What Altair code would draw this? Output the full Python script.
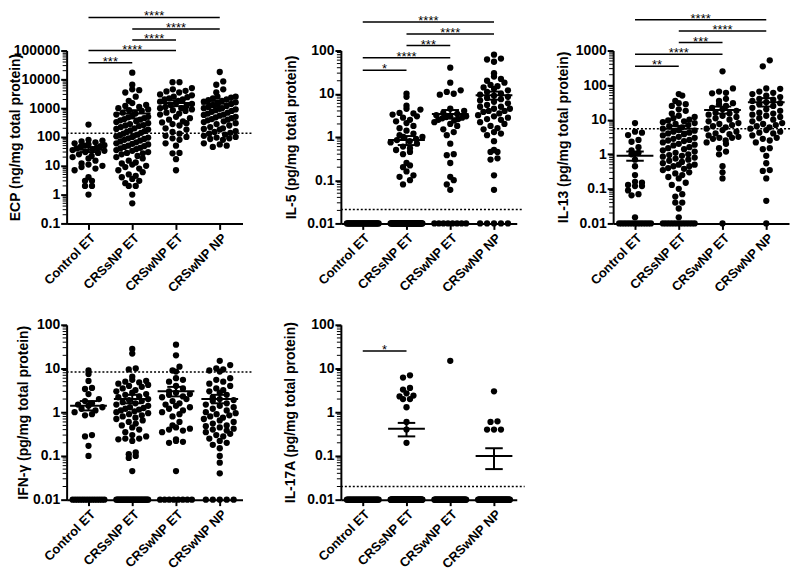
import math
import altair as alt
import pandas as pd

GROUPS = ["Control ET", "CRSsNP ET", "CRSwNP ET", "CRSwNP NP"]
FLOOR = 0.01
FONT = "Liberation Sans"

# ---------------- ECP (ng/mg total protein) ----------------
ecp_control = [270, 80, 75, 70, 65, 60, 55, 52, 50, 48, 45, 42, 40, 38, 35, 33, 30, 28, 25, 22,
               20, 18, 15, 12, 11, 10, 9, 8, 7, 4, 3, 3, 2, 2, 1]
ecp_crssnp = [17000, 6500, 4500, 4200, 3500, 2500, 1800, 1500, 1300, 1200, 1100, 1000, 900, 850,
              800, 700, 650, 600, 550, 500, 480, 450, 420, 400, 380, 350, 330, 300, 280, 260, 250,
              240, 220, 200, 190, 180, 170, 160, 150, 140, 130, 120, 115, 110, 105, 100, 95, 90, 85,
              80, 75, 70, 65, 60, 58, 55, 50, 48, 45, 42, 40, 38, 35, 33, 30, 28, 27, 25, 22, 20, 18,
              15, 13, 12, 11, 10, 9, 8, 7, 6, 5, 4.5, 4, 3.5, 3, 2.5, 2, 2, 1, 0.5]
ecp_crswnp_et = [8000, 8000, 5000, 4500, 4000, 3800, 3500, 3000, 2800, 2500, 2400, 2200, 2000, 2000,
                 1800, 1700, 1500, 1400, 1300, 1200, 1100, 1000, 1000, 900, 850, 800, 700, 650, 600,
                 500, 450, 400, 350, 320, 300, 280, 250, 200, 180, 150, 130, 110, 100, 90, 80, 60,
                 50, 28, 27, 17, 7]
ecp_crswnp_np = [18000, 8500, 6500, 4500, 3500, 2500, 2500, 2300, 2200, 2000, 1900, 1800, 1700, 1600,
                 1500, 1400, 1300, 1200, 1100, 1000, 1000, 950, 900, 850, 800, 750, 700, 650, 600,
                 580, 550, 500, 480, 450, 420, 400, 380, 350, 330, 300, 280, 250, 220, 200, 190, 180,
                 160, 150, 140, 130, 120, 110, 100, 95, 90, 85, 80, 60, 55, 50, 45]
ecp_floor = [0, 0, 0, 0]
ecp_mean = [36, 650, 1500, 1430]
ecp_sem_lo = [30, 440, 1170, 1110]
ecp_sem_hi = [44, 850, 1860, 1780]
ecp_threshold = 135
ecp_sig_from = [0, 0, 1, 1, 0]
ecp_sig_to = [1, 2, 2, 3, 3]
ecp_sig_level = [38000, 100000, 230000, 560000, 1400000]
ecp_sig_text = ["***", "****", "****", "****", "****"]

# ---------------- IL-5 ----------------
il5_control = []
il5_crssnp = [10, 8.5, 5.3, 4.5, 4.3, 3.6, 3.5, 3.3, 3.0, 2.8, 2.5, 2.3, 2.1, 1.8, 1.6, 1.4, 1.2, 1.1,
              1.0, 1.0, 0.9, 0.85, 0.8, 0.75, 0.7, 0.6, 0.55, 0.5, 0.45, 0.4, 0.25, 0.22, 0.2, 0.16,
              0.13, 0.12, 0.1, 0.08]
il5_crswnp_et = [40, 18, 12, 11, 10, 9.5, 4.5, 4, 3.6, 3.4, 3.2, 3, 3, 2.9, 2.8, 2.7, 2.6, 2.5, 2.4,
                 2.2, 2, 1.8, 1.5, 1.3, 1.1, 0.7, 0.4, 0.38, 0.25, 0.12, 0.1, 0.08, 0.06]
il5_crswnp_np = [80, 65, 62, 55, 30, 25, 22, 20, 18, 16, 15, 14, 13, 12, 11, 10, 9.5, 9, 8.5, 8, 7.5,
                 7, 6.5, 6, 5.5, 5, 5, 4.5, 4.5, 4, 4, 3.8, 3.5, 3.2, 3, 2.8, 2.6, 2.5, 2.2, 2, 1.8,
                 1.6, 1.5, 1.3, 1.2, 1.1, 0.8, 0.5, 0.45, 0.45, 0.32, 0.3, 0.13, 0.06]
il5_floor = [35, 55, 8, 5]
il5_mean = [None, 0.85, 3.4, 9.2]
il5_sem_lo = [None, 0.65, 2.7, 7.3]
il5_sem_hi = [None, 1.05, 4.2, 11.2]
il5_threshold = 0.021
il5_sig_from = [0, 0, 1, 1, 0]
il5_sig_to = [1, 2, 2, 3, 3]
il5_sig_level = [35, 68, 130, 240, 460]
il5_sig_text = ["*", "****", "***", "****", "****"]

# ---------------- IL-13 ----------------
il13_control = [8, 4.5, 4.2, 3.6, 2.6, 2.3, 1.6, 1.3, 1.1, 1.0, 0.7, 0.45, 0.25, 0.16, 0.15, 0.13,
                0.12, 0.12, 0.09, 0.07, 0.065, 0.015]
il13_crssnp = [55, 50, 35, 30, 28, 25, 20, 18, 15, 13, 12, 11, 10, 9.5, 9, 8.5, 8, 7.5, 7, 6.5, 6,
               5.5, 5, 4.8, 4.5, 4.2, 4, 3.8, 3.5, 3.2, 3, 2.8, 2.6, 2.5, 2.4, 2.2, 2, 1.9, 1.8,
               1.6, 1.5, 1.4, 1.3, 1.2, 1.1, 1, 0.95, 0.9, 0.85, 0.8, 0.75, 0.7, 0.65, 0.6, 0.55,
               0.5, 0.5, 0.45, 0.45, 0.4, 0.38, 0.35, 0.3, 0.28, 0.25, 0.22, 0.2, 0.15, 0.13, 0.1,
               0.07, 0.06, 0.04, 0.04, 0.027, 0.015]
il13_crswnp_et = [250, 80, 65, 60, 58, 40, 35, 30, 28, 25, 22, 20, 18, 16, 15, 14, 13, 12, 11, 10, 9,
                  8, 7.5, 7, 6.5, 6, 5.5, 5, 4.5, 4, 3.8, 3.5, 3.2, 3, 3, 2.8, 2.5, 2.2, 2, 1.5, 1.2,
                  1, 0.45, 0.3, 0.2]
il13_crswnp_np = [520, 350, 80, 78, 65, 60, 55, 50, 45, 40, 38, 35, 32, 30, 28, 25, 22, 20, 18, 16,
                  15, 14, 13, 12, 11, 10, 9, 8, 7.5, 7, 6.5, 6, 5.5, 5, 4.5, 4.2, 4, 3.5, 3, 2.8,
                  2.5, 2.2, 1.5, 1.4, 0.9, 0.55, 0.35, 0.33, 0.2, 0.045]
il13_floor = [13, 12, 1, 1]
il13_mean = [0.9, 5.5, 19, 32]
il13_sem_lo = [0.65, 4.5, 15, 24]
il13_sem_hi = [1.2, 6.6, 24, 42]
il13_threshold = 5.5
il13_sig_from = [0, 0, 1, 1, 0]
il13_sig_to = [1, 2, 2, 3, 3]
il13_sig_level = [350, 780, 1700, 3700, 7800]
il13_sig_text = ["**", "****", "***", "****", "****"]

# ---------------- IFN-gamma ----------------
ifng_control = [9, 7.5, 5.2, 3.6, 3.4, 2.6, 2, 1.8, 1.6, 1.5, 1.4, 1.3, 1.2, 1.1, 1, 0.9, 0.85,
                0.3, 0.28, 0.17, 0.1]
ifng_crssnp = [28, 22, 10, 9.5, 6.5, 5.5, 5.2, 5, 4.8, 4.5, 4.2, 4, 3.8, 3.5, 3.2, 3, 2.8, 2.6, 2.5,
               2.3, 2.2, 2, 1.9, 1.8, 1.7, 1.6, 1.5, 1.4, 1.3, 1.25, 1.2, 1.15, 1.1, 1.05, 1, 0.95,
               0.9, 0.85, 0.8, 0.75, 0.7, 0.65, 0.6, 0.55, 0.5, 0.45, 0.4, 0.35, 0.3, 0.28, 0.25,
               0.25, 0.24, 0.22, 0.12, 0.11, 0.1, 0.09, 0.045]
ifng_crswnp_et = [35, 20, 11, 9, 8.5, 6, 5.5, 5, 4, 3.5, 3, 2.8, 2.6, 2.5, 2.3, 2.2, 2, 1.8, 1.6, 1.5,
                  1.4, 1.3, 1.2, 1.1, 1, 0.9, 0.8, 0.6, 0.5, 0.45, 0.42, 0.4, 0.38, 0.35, 0.24, 0.22,
                  0.21, 0.2, 0.045]
ifng_crswnp_np = [15, 12, 10, 9.5, 9, 8.5, 6, 5.5, 5, 4.5, 4, 3.5, 3.2, 3, 2.8, 2.5, 2.2, 2, 1.9, 1.8,
                  1.6, 1.5, 1.4, 1.3, 1.2, 1.1, 1, 0.95, 0.9, 0.85, 0.8, 0.75, 0.7, 0.65, 0.6, 0.55,
                  0.5, 0.48, 0.45, 0.42, 0.4, 0.38, 0.35, 0.32, 0.3, 0.28, 0.25, 0.22, 0.2, 0.18,
                  0.15, 0.1, 0.07, 0.04]
ifng_floor = [14, 30, 8, 5]
ifng_mean = [1.4, 2.0, 3.0, 2.0]
ifng_sem_lo = [1.1, 1.6, 2.3, 1.6]
ifng_sem_hi = [1.8, 2.5, 3.8, 2.5]
ifng_threshold = 8.3
ifng_sig_from = []
ifng_sig_to = []
ifng_sig_level = []
ifng_sig_text = []

# ---------------- IL-17A ----------------
il17_control = []
il17_crssnp = [7, 6.2, 3.6, 3.3, 2.7, 2.4, 2.3, 2.0, 2.0, 1.3, 0.6, 0.4, 0.2]
il17_crswnp_et = [15]
il17_crswnp_np = [3, 0.62, 0.6, 0.4, 0.4, 0.4]
il17_floor = [35, 80, 49, 58]
il17_mean = [None, 0.42, None, 0.1]
il17_sem_lo = [None, 0.28, None, 0.05]
il17_sem_hi = [None, 0.57, None, 0.15]
il17_threshold = 0.02
il17_sig_from = [0]
il17_sig_to = [1]
il17_sig_level = [25]
il17_sig_text = ["*"]

# ---------------- layout helpers ----------------
PANEL_W = 177
X_DOMAIN = [-0.5, 3.52]
STEP_PX = PANEL_W / (X_DOMAIN[1] - X_DOMAIN[0])
DOT_PX = 7.0
ROW_MAX_PX = 32.0


def swarm(vals, idx, lo, hi, height):
    """Prism-like scatter: points grouped in rows one dot high, spread sideways."""
    span = math.log10(hi) - math.log10(lo)
    rows = {}
    for v in sorted(vals):
        ypx = (math.log10(v) - math.log10(lo)) / span * height
        rows.setdefault(int(round(ypx / DOT_PX)), []).append(v)
    out = []
    for key in sorted(rows):
        members = rows[key]
        n = len(members)
        gap = DOT_PX if n < 2 else min(DOT_PX, ROW_MAX_PX / (n - 1))
        order = sorted(range(n), key=lambda k: (k % 2, k))
        for pos, k in enumerate(order):
            off = (pos - (n - 1) / 2) * gap
            out.append({"x": idx + off / STEP_PX, "v": members[k]})
    return out


def panel(groups, floors, means, sem_lo, sem_hi, thr, thr_end, s_from, s_to, s_lvl, s_txt,
          dom, title, tpad, height):
    lo, hi = dom
    pts = []
    for i, (vals, nf) in enumerate(zip(groups, floors)):
        pts += swarm(list(vals) + [FLOOR] * nf, i, lo, hi, height)
    pts = pd.DataFrame(pts)

    xs = alt.Scale(domain=X_DOMAIN, nice=False, zero=False)
    ys = alt.Scale(type="log", domain=[lo, hi], nice=False)
    decades = []
    k = round(math.log10(lo))
    while 10 ** k <= hi * 1.0001:
        decades.append(float(10 ** k) if k >= 0 else round(10 ** k, -k))
        k += 1
    minors = []
    for d in decades[:-1]:
        for m in range(2, 10):
            minors.append(d * m)

    label_expr = "[" + ",".join("'%s'" % g for g in GROUPS) + "][datum.value]"
    xa = alt.Axis(values=[0, 1, 2, 3], labelExpr=label_expr, title=None, labelAngle=315,
                  labelAlign="right", labelBaseline="top", tickSize=6, labelPadding=2,
                  labelOverlap=False, labelFlush=False)
    ya = alt.Axis(values=decades, format="~g", title=title, titlePadding=tpad, tickSize=6,
                  labelPadding=1, labelOverlap=False)

    def X(f):
        return alt.X(f, scale=xs, axis=xa)

    def Y(f):
        return alt.Y(f, scale=ys, axis=ya)

    dots = alt.Chart(pts).mark_circle(size=40, color="black", opacity=1).encode(
        x=X("x:Q"), y=Y("v:Q"))

    stats = pd.DataFrame({"g": [0, 1, 2, 3], "m": means, "lo": sem_lo, "hi": sem_hi}).dropna()
    mean_line = alt.Chart(stats).transform_calculate(
        a="datum.g - 0.42", b="datum.g + 0.42").mark_rule(color="black", strokeWidth=2).encode(
        x=X("a:Q"), x2="b:Q", y=Y("m:Q"))
    sem_line = alt.Chart(stats).mark_rule(color="black", strokeWidth=2).encode(
        x=X("g:Q"), y=Y("lo:Q"), y2="hi:Q")
    caps = alt.Chart(stats).transform_fold(["lo", "hi"], as_=["k", "val"]).transform_calculate(
        a="datum.g - 0.2", b="datum.g + 0.2").mark_rule(color="black", strokeWidth=2).encode(
        x=X("a:Q"), x2="b:Q", y=Y("val:Q"))

    thr_df = pd.DataFrame({"a": [X_DOMAIN[0]], "b": [thr_end], "t": [thr]})
    thr_line = alt.Chart(thr_df).mark_rule(color="black", strokeWidth=1.5,
                                           strokeDash=[2, 2]).encode(
        x=X("a:Q"), x2="b:Q", y=Y("t:Q"))

    minor_df = pd.DataFrame({"t": minors})
    minor_ticks = alt.Chart(minor_df).mark_rule(color="black", strokeWidth=1).encode(
        y=Y("t:Q"), x=alt.value(0), x2=alt.value(-4))

    layers = [dots, thr_line, mean_line, sem_line, caps, minor_ticks]
    if s_from:
        sig = pd.DataFrame({"a": s_from, "b": s_to, "lvl": s_lvl, "txt": s_txt})
        sig_line = alt.Chart(sig).mark_rule(color="black", strokeWidth=1.5).encode(
            x=X("a:Q"), x2="b:Q", y=Y("lvl:Q"))
        sig_txt = alt.Chart(sig).transform_calculate(c="(datum.a + datum.b) / 2").mark_text(
            color="black", fontSize=13, font=FONT, baseline="middle", dy=-1).encode(
            x=X("c:Q"), y=Y("lvl:Q"), text="txt:N")
        layers += [sig_line, sig_txt]
    return alt.layer(*layers).properties(width=PANEL_W, height=height)


p1 = panel([ecp_control, ecp_crssnp, ecp_crswnp_et, ecp_crswnp_np], ecp_floor, ecp_mean,
           ecp_sem_lo, ecp_sem_hi, ecp_threshold, 3.75, ecp_sig_from, ecp_sig_to, ecp_sig_level,
           ecp_sig_text, (0.1, 100000), "ECP (ng/mg total protein)", -9, 174)
p2 = panel([il5_control, il5_crssnp, il5_crswnp_et, il5_crswnp_np], il5_floor, il5_mean,
           il5_sem_lo, il5_sem_hi, il5_threshold, 3.65, il5_sig_from, il5_sig_to, il5_sig_level,
           il5_sig_text, (0.01, 100), "IL-5 (pg/mg total protein)", 8, 174)
p3 = panel([il13_control, il13_crssnp, il13_crswnp_et, il13_crswnp_np], il13_floor, il13_mean,
           il13_sem_lo, il13_sem_hi, il13_threshold, 3.55, il13_sig_from, il13_sig_to,
           il13_sig_level, il13_sig_text, (0.01, 1000), "IL-13 (pg/mg total protein)", 5, 174)
p4 = panel([ifng_control, ifng_crssnp, ifng_crswnp_et, ifng_crswnp_np], ifng_floor, ifng_mean,
           ifng_sem_lo, ifng_sem_hi, ifng_threshold, 3.75, ifng_sig_from, ifng_sig_to,
           ifng_sig_level, ifng_sig_text, (0.01, 100), "IFN-γ (pg/mg total protein)", 2, 176)
p5 = panel([il17_control, il17_crssnp, il17_crswnp_et, il17_crswnp_np], il17_floor, il17_mean,
           il17_sem_lo, il17_sem_hi, il17_threshold, 3.7, il17_sig_from, il17_sig_to,
           il17_sig_level, il17_sig_text, (0.01, 100), "IL-17A (pg/mg total protein)", 9, 176)

chart = alt.concat(p1, p2, p3, p4, p5, columns=3, align="each",
                   spacing=alt.RowColnumber(row=23, column=30)).properties(
    padding=0, background="white"
).configure_view(stroke=None).configure_axis(
    domainColor="black", domainWidth=2, tickColor="black", tickWidth=2, labelColor="black",
    titleColor="black", labelFont=FONT, titleFont=FONT, labelFontWeight="bold",
    titleFontWeight="bold", labelFontSize=14, titleFontSize=14, grid=False
).configure_axisX(labelFontSize=13)

chart.save("out.html", embed_options={"renderer": "svg", "actions": False})
